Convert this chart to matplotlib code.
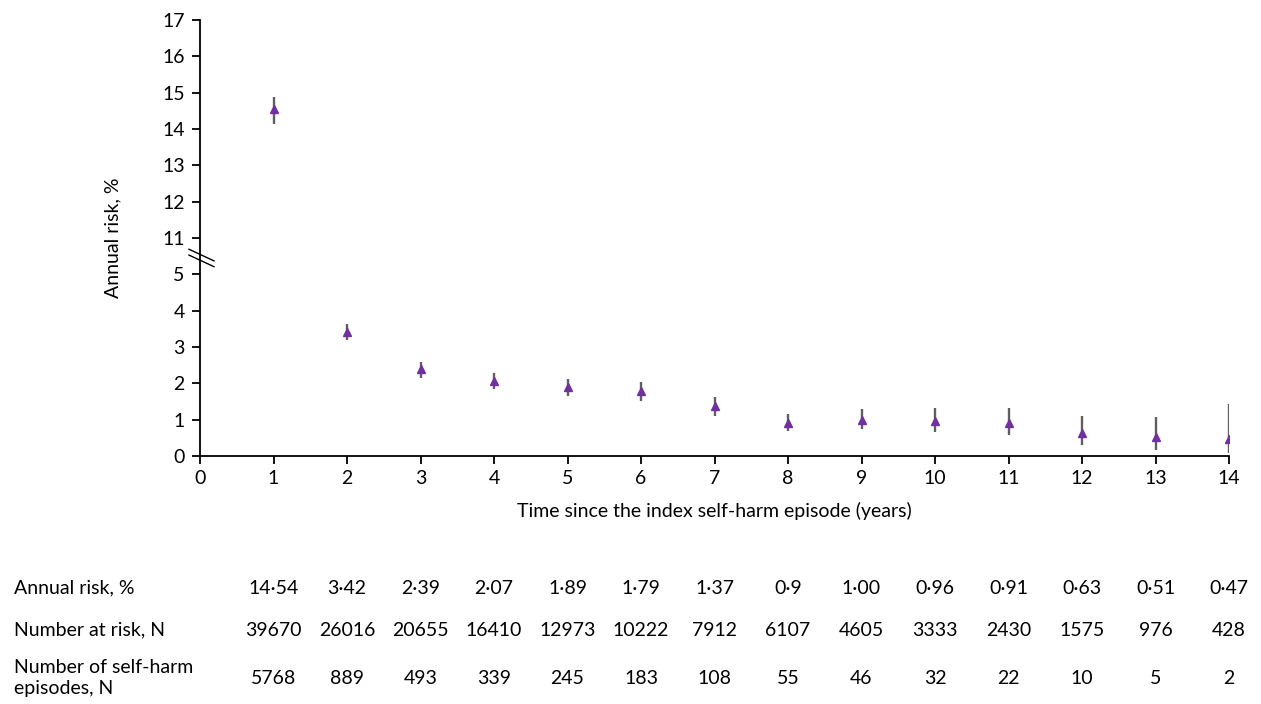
import numpy as np
import matplotlib.pyplot as plt
import matplotlib.transforms as mtransforms

plt.rcParams['font.family'] = ['Lato', 'DejaVu Sans']
plt.rcParams['font.size'] = 14

# data
years = np.arange(1, 15)
risk = [14.54, 3.42, 2.39, 2.07, 1.89, 1.79, 1.37, 0.90, 1.00, 0.96, 0.91, 0.63, 0.51, 0.47]
ci_low = [14.15, 3.20, 2.16, 1.84, 1.64, 1.52, 1.10, 0.68, 0.73, 0.65, 0.57, 0.31, 0.17, 0.07]
ci_high = [14.89, 3.64, 2.59, 2.28, 2.12, 2.05, 1.62, 1.15, 1.30, 1.31, 1.32, 1.09, 1.07, 1.42]

ytick_labels = ['0', '1', '2', '3', '4', '5', '11', '12', '13', '14', '15', '16', '17']

row_names = ['Annual risk, %', 'Number at risk, N', 'Number of self-harm\nepisodes, N']
risk_txt = ['14·54', '3·42', '2·39', '2·07', '1·89', '1·79', '1·37', '0·9', '1·00',
            '0·96', '0·91', '0·63', '0·51', '0·47']
n_at_risk = [39670, 26016, 20655, 16410, 12973, 10222, 7912, 6107, 4605, 3333,
             2430, 1575, 976, 428]
n_episodes = [5768, 889, 493, 339, 245, 183, 108, 55, 46, 32, 22, 10, 5, 2]


# broken axis: values above the gap (5..11) are shifted down by 6
def brk(v):
    v = np.asarray(v, dtype=float)
    return np.where(v > 5.5, v - 5, v)


y = brk(risk)
lo = brk(ci_low)
hi = brk(ci_high)

fig = plt.figure(figsize=(12.61, 7.04), dpi=100)
ax = fig.add_axes([200 / 1261, 1 - 456 / 704, 1029 / 1261, 436 / 704])

ax.errorbar(years, y, yerr=[y - lo, hi - y], fmt='none', ecolor='#5f5f5f',
            elinewidth=1.7, capsize=0, zorder=2)
ax.plot(years, y, linestyle='none', marker='^', markersize=5.5,
        color='#7030A0', zorder=3)

ax.set_xlim(0, 14)
ax.set_ylim(0, 12)
ax.set_xticks(range(0, 15))
ax.set_yticks(range(0, 13))
ax.set_yticklabels(ytick_labels)

for s in ['top', 'right']:
    ax.spines[s].set_visible(False)
for s in ['left', 'bottom']:
    ax.spines[s].set_linewidth(1.3)
ax.tick_params(axis='both', direction='out', length=6, width=1.3, labelsize=14)
ax.tick_params(axis='y', pad=5)
ax.tick_params(axis='x', pad=4)

ax.set_xlabel('Time since the index self-harm episode (years)', labelpad=11)
ax.set_ylabel('Annual risk, %', labelpad=29)

# break marks on the y axis
bt = mtransforms.blended_transform_factory(ax.transAxes, ax.transData)
for off in [0.0, -0.16]:
    ax.plot([-0.0107, 0.0136], [5.69 + off, 5.37 + off], color='black', lw=1.0,
            transform=bt, clip_on=False)

# table under the chart
tt = mtransforms.blended_transform_factory(ax.transData, fig.transFigure)
row_y = [1 - 588 / 704, 1 - 630 / 704, 1 - 678 / 704]
for name, ry in zip(row_names, row_y):
    fig.text(14 / 1261, ry, name, ha='left', va='center', linespacing=1.3)
for i, yr in enumerate(years):
    ax.text(yr, row_y[0], risk_txt[i], ha='center', va='center', transform=tt)
    ax.text(yr, row_y[1], str(n_at_risk[i]), ha='center', va='center', transform=tt)
    ax.text(yr, row_y[2], str(n_episodes[i]), ha='center', va='center', transform=tt)

fig.savefig('out.png', dpi=100)
